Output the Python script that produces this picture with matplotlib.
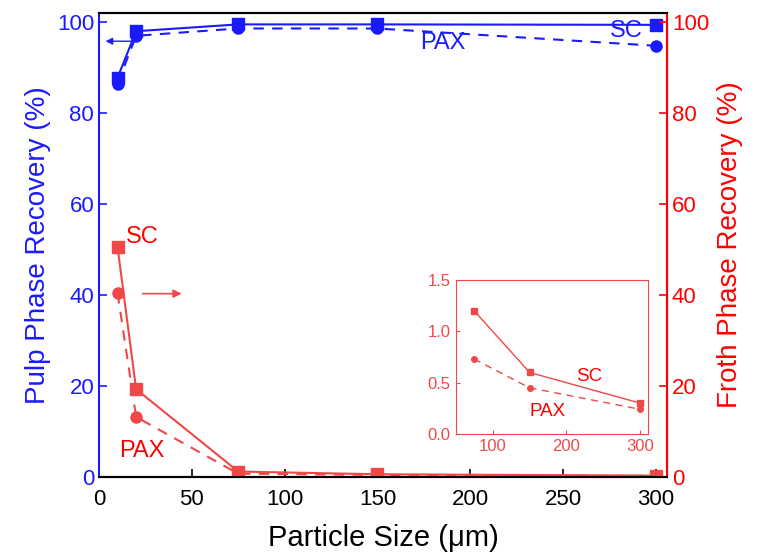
import matplotlib.pyplot as plt

plt.rcParams["font.family"] = ["Liberation Sans", "DejaVu Sans"]

size = [10, 20, 75, 150, 300]
pulp_sc = [87.8, 98.0, 99.5, 99.5, 99.4]
pulp_pax = [86.5, 97.0, 98.6, 98.6, 94.8]
froth_sc = [50.5, 19.3, 1.2, 0.6, 0.3]
froth_pax = [40.4, 13.2, 0.73, 0.45, 0.24]

BLUE = "#1a1aff"
RED = "#ff0000"
RED_LINE = "#f04848"

fig = plt.figure(figsize=(7.64, 5.59), dpi=100)
ax = fig.add_axes([0.1296, 0.1467, 0.7434, 0.83])
ax2 = ax.twinx()

ax.plot(size, pulp_sc, "-s", color=BLUE, lw=1.5, ms=8)
ax.plot(size, pulp_pax, "--o", color=BLUE, lw=1.5, ms=8, dashes=(5, 4))
ax2.plot(size, froth_sc, "-s", color=RED_LINE, lw=1.5, ms=8)
ax2.plot(size, froth_pax, "--o", color=RED_LINE, lw=1.5, ms=8, dashes=(5, 4))

ax.set_xlim(0, 306)
ax.set_ylim(0, 102)
ax2.set_ylim(0, 102)
ax.set_xticks([0, 50, 100, 150, 200, 250, 300])
ax.set_yticks([0, 20, 40, 60, 80, 100])
ax2.set_yticks([0, 20, 40, 60, 80, 100])

ax.tick_params(axis="x", direction="in", length=6, width=1.2, labelsize=16, colors="black", pad=9)
ax.tick_params(axis="y", direction="in", length=6, width=1.2, labelsize=16, colors=BLUE)
ax2.tick_params(axis="y", direction="in", length=6, width=1.2, labelsize=16, colors=RED)
ax.spines["left"].set_color(BLUE)
ax2.spines["left"].set_visible(False)
ax2.spines["right"].set_color(RED)
for s in ["left", "bottom", "top"]:
    ax.spines[s].set_linewidth(1.5)
ax2.spines["right"].set_linewidth(1.5)
ax2.spines["top"].set_linewidth(1.5)
ax2.spines["bottom"].set_linewidth(1.5)

ax.set_xlabel("Particle Size (μm)", fontsize=21, labelpad=10)
ax.set_ylabel("Pulp Phase Recovery (%)", fontsize=20, color=BLUE, labelpad=4)
ax2.set_ylabel("Froth Phase Recovery (%)", fontsize=20, color=RED, labelpad=6)

ax.annotate("", xy=(2, 95.8), xytext=(19, 95.8),
            arrowprops=dict(arrowstyle="-|>", color=BLUE, lw=1, mutation_scale=10))
ax2.annotate("", xy=(46, 40.3), xytext=(22, 40.3),
             arrowprops=dict(arrowstyle="-|>", color=RED_LINE, lw=1.2, mutation_scale=12))

ax.text(173, 94.0, "PAX", color=BLUE, fontsize=17)
ax.text(275, 96.8, "SC", color=BLUE, fontsize=17)
ax2.text(14.5, 51.5, "SC", color=RED, fontsize=17)
ax2.text(11, 4.5, "PAX", color=RED, fontsize=17)

ins = fig.add_axes([0.5965, 0.2236, 0.2513, 0.2755])
ins.plot(size[2:], froth_sc[2:], "-s", color=RED_LINE, lw=1, ms=4)
ins.plot(size[2:], froth_pax[2:], "--o", color=RED_LINE, lw=1, ms=4, dashes=(5, 4))
ins.set_xlim(50, 310)
ins.set_ylim(0, 1.5)
ins.set_xticks([100, 200, 300])
ins.set_yticks([0.0, 0.5, 1.0, 1.5])
ins.tick_params(direction="in", length=3, labelsize=12, colors=RED_LINE)
for s in ins.spines.values():
    s.set_color(RED_LINE)
ins.text(213, 0.52, "SC", color=RED, fontsize=13.5)
ins.text(150, 0.18, "PAX", color=RED, fontsize=13.5)

fig.savefig("out.png", dpi=100)
